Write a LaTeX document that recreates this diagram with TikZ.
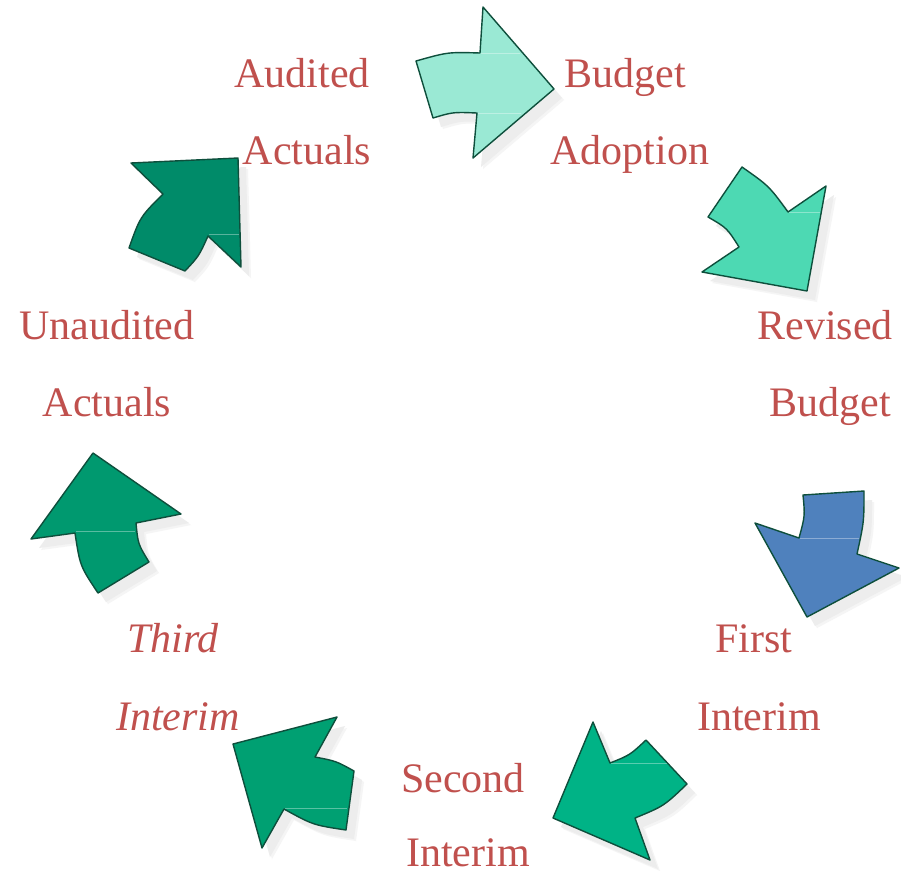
\documentclass[tikz,border=0pt]{standalone}
\usepackage{fontspec}
\setmainfont{Liberation Serif}
\definecolor{txt}{HTML}{C0504D}
\definecolor{edge}{HTML}{0E4F3C}
\definecolor{ca}{HTML}{9AE9D4}
\definecolor{cb}{HTML}{4DD9B3}
\definecolor{cc}{HTML}{4F81BD}
\definecolor{cd}{HTML}{00B386}
\definecolor{ce}{HTML}{00A072}
\definecolor{cf}{HTML}{00996F}
\definecolor{cg}{HTML}{008B69}
\newcommand\dropshape[2]{%
  \path[fill=black!4,shift={(10,11)}] #2;
  \path[fill=black!7,shift={(8,9)}] #2;
  \path[#1,draw=edge,line width=1.4pt,line join=round] #2;}
\tikzset{
  lbl/.style={text=txt,anchor=base,inner sep=0pt,font=\fontsize{42}{50}\selectfont},
  sheen/.style={draw=white,opacity=0.35,line width=0.8pt}
}
\begin{document}
\begin{tikzpicture}[x=1pt,y=-1pt]
\useasboundingbox[fill=white] (0,0) rectangle (901,871);
% arrows
\dropshape{fill=ca}{(416,61) .. controls (448,52) .. (480,53) -- (483,7) -- (554,89) -- (473,158) -- (477,113) .. controls (453,112) .. (433,118) -- cycle}
\draw[sheen] (481,53) -- (520,53) (478,113) -- (521,113);
\dropshape{fill=cb}{(742,167) .. controls (769,186) .. (788,212) -- (826,186) -- (807,291) -- (702,272) -- (739,247) .. controls (727,228) .. (708,217) -- cycle}
\draw[sheen] (789,212) -- (820,212);
\dropshape{fill=cc}{(803,495) -- (864,491) .. controls (864,522) .. (857,554) -- (899,568) -- (807,617) -- (755,523) -- (799,538) .. controls (805,516) .. (803,495) -- cycle}
\draw[sheen] (800,538) -- (859,538);
\dropshape{fill=cd}{(593,722) -- (610,763) .. controls (630,755) .. (646,740) -- (687,784) .. controls (664,806) .. (635,818) -- (650,860) -- (553,818) -- cycle}
\draw[sheen] (611,763) -- (667,763);
\dropshape{fill=ce}{(337,717) -- (315,757) .. controls (336,761) .. (354,771) -- (346,830) .. controls (313,825) .. (284,809) -- (262,848) -- (233,744) -- cycle}
\draw[sheen] (285,808) -- (347,808);
\dropshape{fill=cf}{(93,453) -- (181,514) -- (136,523) .. controls (138,544) .. (149,562) -- (98,593) .. controls (80,566) .. (75,533) -- (31,539) -- cycle}
\draw[sheen] (76,531) -- (135,531);
\dropshape{fill=cg}{(238,158) -- (241,267) -- (208,236) .. controls (199,256) .. (185,271) -- (129,248) .. controls (140,217) .. (163,194) -- (131,163) -- cycle}
\draw[sheen] (209,234) -- (239,234);
% labels
\node[lbl] (aud1) at (302,87) {Audited};
\node[lbl] (aud2) at (307,164) {Actuals};
\node[lbl] (bud1) at (625,87) {Budget};
\node[lbl] (bud2) at (630,164) {Adoption};
\node[lbl] (rev1) at (825,339) {Revised};
\node[lbl] (rev2) at (830,416) {Budget};
\node[lbl] (fir1) at (754,652) {First};
\node[lbl] (fir2) at (759,730) {Interim};
\node[lbl] (sec1) at (463,792) {Second};
\node[lbl] (sec2) at (468,866) {Interim};
\node[lbl,font=\fontsize{42}{50}\selectfont\itshape] (thi1) at (173,652) {Third};
\node[lbl,font=\fontsize{42}{50}\selectfont\itshape] (thi2) at (178,730) {Interim};
\node[lbl] (una1) at (107,339) {Unaudited};
\node[lbl] (una2) at (107,416) {Actuals};
\end{tikzpicture}
\end{document}
